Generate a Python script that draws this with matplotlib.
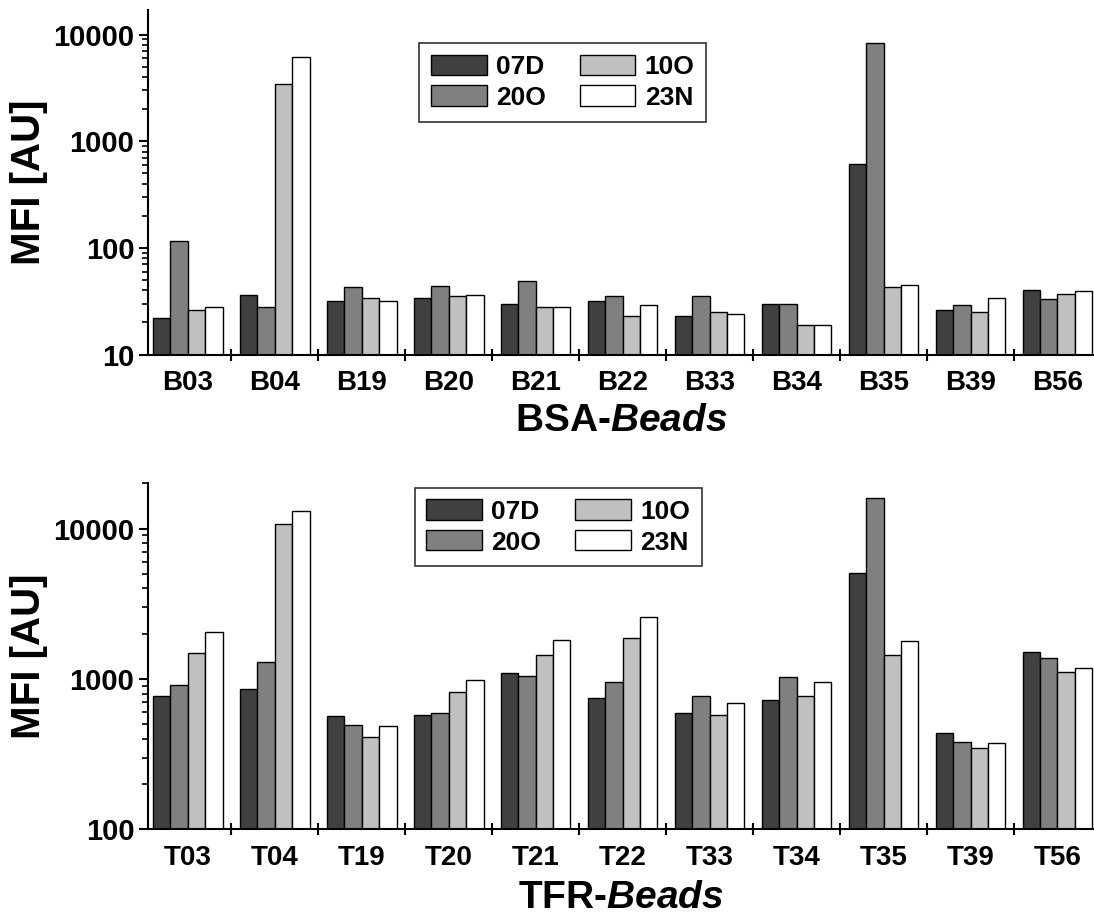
import numpy as np
import matplotlib
matplotlib.use("Agg")
import matplotlib.pyplot as plt
from matplotlib.ticker import FixedLocator, LogLocator, NullFormatter, FixedFormatter

plt.rcParams['font.family'] = ['Liberation Sans', 'DejaVu Sans']
plt.rcParams['font.weight'] = 'bold'
plt.rcParams['axes.labelweight'] = 'bold'
plt.rcParams['mathtext.fontset'] = 'custom'
plt.rcParams['mathtext.rm'] = 'Liberation Sans:bold'
plt.rcParams['mathtext.it'] = 'Liberation Sans:italic:bold'
plt.rcParams['mathtext.bf'] = 'Liberation Sans:bold'

series = ['07D', '20O', '10O', '23N']
colors = ['#404040', '#808080', '#c0c0c0', '#ffffff']

bsa_labels = ['B03', 'B04', 'B19', 'B20', 'B21', 'B22', 'B33', 'B34', 'B35', 'B39', 'B56']
bsa_07D = [22, 36, 32, 34, 30, 32, 23, 30, 615, 26, 40]
bsa_20O = [116, 28, 43, 44, 49, 35, 35, 30, 8300, 29, 33]
bsa_10O = [26, 3450, 34, 35, 28, 23, 25, 19, 43, 25, 37]
bsa_23N = [28, 6100, 32, 36, 28, 29, 24, 19, 45, 34, 39]

tfr_labels = ['T03', 'T04', 'T19', 'T20', 'T21', 'T22', 'T33', 'T34', 'T35', 'T39', 'T56']
tfr_07D = [770, 860, 570, 580, 1090, 750, 590, 725, 5100, 440, 1500]
tfr_20O = [910, 1290, 495, 590, 1040, 960, 775, 1025, 16000, 380, 1370]
tfr_10O = [1480, 10800, 410, 820, 1450, 1880, 580, 765, 1450, 348, 1110]
tfr_23N = [2050, 13000, 488, 990, 1830, 2570, 695, 960, 1780, 374, 1190]

fig = plt.figure(figsize=(10.94, 9.17), dpi=100)
ax1 = fig.add_axes([0.135, 0.6134, 0.865, 0.3757])
ax2 = fig.add_axes([0.135, 0.0956, 0.865, 0.3773])


def draw(ax, labels, data, ylim, yticks, xlabel, leg_anchor, xpad):
    x = np.arange(len(labels))
    w = 0.2
    for i, (vals, c, name) in enumerate(zip(data, colors, series)):
        ax.bar(x + (i - 1.5) * w, vals, width=w, color=c, edgecolor='black',
               linewidth=1.0, label=name, zorder=2)
    ax.set_yscale('log')
    ax.set_ylim(*ylim)
    ax.set_xlim(-0.462, 10.42)
    ax.yaxis.set_major_locator(FixedLocator(yticks))
    ax.yaxis.set_major_formatter(FixedFormatter([str(t) for t in yticks]))
    ax.yaxis.set_minor_locator(LogLocator(base=10, subs=np.arange(2, 10)))
    ax.yaxis.set_minor_formatter(NullFormatter())
    ax.set_xticks(x)
    ax.set_xticklabels(labels)
    ax.set_xticks(np.arange(0.5, len(labels) - 0.5), minor=True)
    ax.tick_params(axis='x', which='major', length=0, labelsize=20, pad=11)
    ax.tick_params(axis='x', which='minor', direction='inout', length=9, width=1.5)
    ax.tick_params(axis='y', which='major', direction='out', length=6.5, width=1.5,
                   labelsize=21, pad=3)
    ax.tick_params(axis='y', which='minor', direction='out', length=4, width=1.2)
    for s in ['top', 'right']:
        ax.spines[s].set_visible(False)
    for s in ['left', 'bottom']:
        ax.spines[s].set_linewidth(1.5)
    ax.set_ylabel('MFI [AU]', fontsize=29, labelpad=4)
    ax.set_xlabel(xlabel, fontsize=28, labelpad=xpad)
    leg = ax.legend(ncol=2, loc='upper left', bbox_to_anchor=leg_anchor,
                    borderaxespad=0, fontsize=19, frameon=True, fancybox=False,
                    edgecolor='black', handlelength=2.1, handleheight=0.8,
                    handletextpad=0.35, columnspacing=1.3, labelspacing=0.25,
                    borderpad=0.45)
    leg.get_frame().set_linewidth(1.2)


draw(ax1, bsa_labels, [bsa_07D, bsa_20O, bsa_10O, bsa_23N], (10, 17000),
     [10, 100, 1000, 10000], r'BSA-$Beads$', (0.287, 0.905), 5)
draw(ax2, tfr_labels, [tfr_07D, tfr_20O, tfr_10O, tfr_23N], (100, 20000),
     [100, 1000, 10000], r'TFR-$Beads$', (0.282, 0.988), 6.5)

fig.savefig('out.png', dpi=100)
